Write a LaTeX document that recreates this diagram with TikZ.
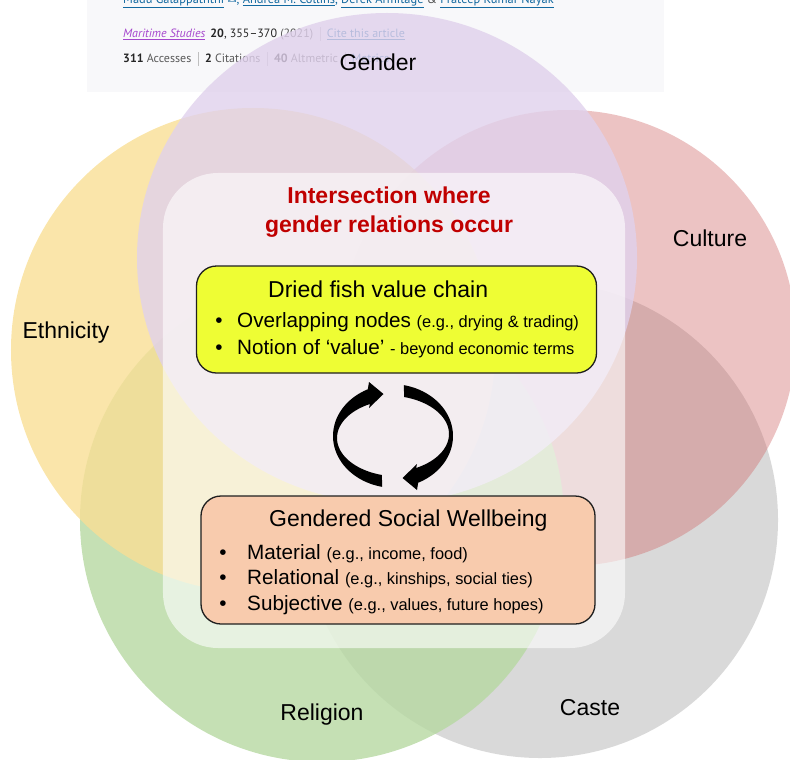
\documentclass[tikz,border=0pt]{standalone}
\usepackage{fontspec}
\setmainfont{Liberation Sans}
\newfontfamily\metafont{PT Sans}
\newfontfamily\iconfont{DejaVu Sans}

% circle fills
\definecolor{ethnicityfill}{RGB}{249,223,149}
\definecolor{genderfill}{RGB}{224,209,236}
\definecolor{religionfill}{RGB}{182,216,161}
\definecolor{castefill}{RGB}{217,217,217}
\definecolor{culturefill}{RGB}{207,105,105}
% panels and text
\definecolor{chainfill}{RGB}{238,253,52}
\definecolor{wellfill}{RGB}{248,203,173}
\definecolor{titlered}{RGB}{192,0,0}
\definecolor{linkblue}{RGB}{18,105,160}
\definecolor{journalpurple}{RGB}{165,70,205}
\definecolor{metabg}{RGB}{248,248,250}

\newcommand\aside[1]{{\fontsize{16.4bp}{19bp}\selectfont #1}}
\newcommand\metabar{\hspace{6.5bp}{\color{black!25}\rule[-3bp]{0.7bp}{14bp}}\hspace{6.5bp}}

\begin{document}
\begin{tikzpicture}[x=1bp, y=-1bp,
  lbl/.style={font=\fontsize{23bp}{27bp}\selectfont, inner sep=0pt, text=black},
  titletext/.style={font=\fontsize{23bp}{27bp}\selectfont\bfseries, inner sep=0pt, text=titlered},
  headtext/.style={font=\fontsize{23bp}{27bp}\selectfont, inner sep=0pt, text=black},
  itemtext/.style={font=\fontsize{20.7bp}{24bp}\selectfont, inner sep=0pt, text=black},
  panel/.style={draw=black!88, line width=1.3bp, rounded corners=20bp, inner sep=0pt},
  zone/.style={fill=white, fill opacity=0.6, rounded corners=55bp, inner sep=0pt},
  meta/.style={font=\metafont\fontsize{12bp}{15bp}\selectfont, inner sep=0pt, text=black!65},
  cyclearrow/.style={fill=black}]

\useasboundingbox (0,0) rectangle (790,760);

% article header strip
\fill[metabg] (87,0) rectangle (664,92);
\node[meta, anchor=base west, text=linkblue, font=\metafont\fontsize{12.4bp}{15bp}\selectfont] (authors) at (123,3.5)
  {\underline{Madu Galappaththi} {\iconfont\fontsize{11bp}{13bp}\selectfont ✉}, \underline{Andrea M. Collins}, \underline{Derek Armitage} {\color{black!70}\&} \underline{Prateep Kumar Nayak}};
\node[meta, anchor=base west] (journal) at (123,38)
  {{\color{journalpurple}\underline{\itshape Maritime Studies}}\hspace{5bp}{\color{black!85}\textbf{20}, 355–370} (2021)\metabar{\color{linkblue}\underline{Cite this article}}};
\node[meta, anchor=base west] (metrics) at (123,63)
  {{\color{black!85}\textbf{311}} Accesses\metabar{\color{black!85}\textbf{2}} Citations\metabar{\color{black!85}\textbf{40}} Altmetric\metabar{\color{linkblue}Metrics}};

% overlapping circles
\fill[castefill] (540,520) circle[radius=238bp];
\fill[culturefill, fill opacity=0.4] (568,338) circle[radius=228bp];
\fill[religionfill, fill opacity=0.8] (322,520) circle[radius=242bp];
\fill[ethnicityfill, fill opacity=0.8] (253,350) circle[radius=242bp];
\fill[genderfill, fill opacity=0.8] (387,258) ellipse[x radius=250bp, y radius=245bp];

% central intersection zone
\node[zone, minimum width=462bp, minimum height=475bp] (zone) at (394,410.5) {};

% circle labels
\node[lbl, anchor=base] (gender) at (378,71) {Gender};
\node[lbl, anchor=base] (culture) at (710,246) {Culture};
\node[lbl, anchor=base] (ethnicity) at (66,338) {Ethnicity};
\node[lbl, anchor=base] (religion) at (322,720) {Religion};
\node[lbl, anchor=base] (caste) at (590,715) {Caste};

% title
\node[titletext, anchor=base] (title1) at (389,203) {Intersection where};
\node[titletext, anchor=base] (title2) at (389,232) {gender relations occur};

% value chain panel
\node[panel, fill=chainfill, minimum width=400bp, minimum height=107bp] (chain) at (396.5,319.5) {};
\node[headtext, anchor=base west] (chainhead) at (268,297) {Dried fish value chain};
\node[itemtext, anchor=base] (cb1) at (219,327) {•};
\node[itemtext, anchor=base west] (ci1) at (237,327) {Overlapping nodes \aside{(e.g., drying \& trading)}};
\node[itemtext, anchor=base] (cb2) at (219,354) {•};
\node[itemtext, anchor=base west] (ci2) at (237,354) {Notion of ‘value’ \aside{- beyond economic terms}};

% wellbeing panel
\node[panel, fill=wellfill, minimum width=394bp, minimum height=128bp] (well) at (398,560) {};
\node[headtext, anchor=base west] (wellhead) at (269,526) {Gendered Social Wellbeing};
\node[itemtext, anchor=base] (wb1) at (223,559) {•};
\node[itemtext, anchor=base west] (wi1) at (247,559) {Material \aside{(e.g., income, food)}};
\node[itemtext, anchor=base] (wb2) at (223,584.5) {•};
\node[itemtext, anchor=base west] (wi2) at (247,584.5) {Relational \aside{(e.g., kinships, social ties)}};
\node[itemtext, anchor=base] (wb3) at (223,610) {•};
\node[itemtext, anchor=base west] (wi3) at (247,610) {Subjective \aside{(e.g., values, future hopes)}};

% cycle of two curved block arrows
\fill[cyclearrow]
  plot[domain=102:244, samples=40, variable=\t] ({395+62*cos(\t)}, {436+52*sin(\t)})
  -- (369,382) -- (383.5,394) -- (369,408)
  -- plot[domain=242:106, samples=40, variable=\t] ({399+62*cos(\t)}, {438+38.5*sin(\t)})
  -- cycle;
\begin{scope}[rotate around={180:(393,436)}]
\fill[cyclearrow]
  plot[domain=102:244, samples=40, variable=\t] ({395+62*cos(\t)}, {436+52*sin(\t)})
  -- (369,382) -- (383.5,394) -- (369,408)
  -- plot[domain=242:106, samples=40, variable=\t] ({399+62*cos(\t)}, {438+38.5*sin(\t)})
  -- cycle;
\end{scope}

\end{tikzpicture}
\end{document}
